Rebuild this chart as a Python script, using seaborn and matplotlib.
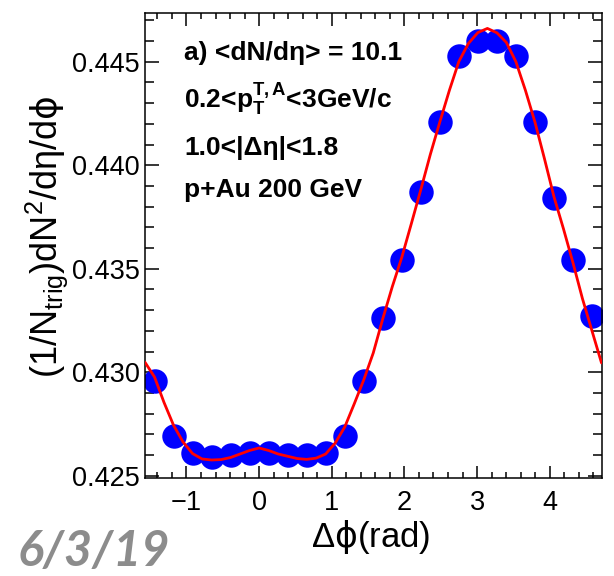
import numpy as np
import pandas as pd
import matplotlib
matplotlib.use("Agg")
import matplotlib.pyplot as plt
from matplotlib.ticker import MultipleLocator, FormatStrFormatter
import seaborn as sns

# Measured per-trigger pair yield in 24 delta-phi bins over [-pi/2, 3pi/2)
n_bins = 24
bin_edges = np.linspace(-np.pi / 2, 3 * np.pi / 2, n_bins + 1)
dphi_centers = 0.5 * (bin_edges[:-1] + bin_edges[1:])
pair_yield = [
    0.4296, 0.4269, 0.4261, 0.4259, 0.4260, 0.4261,
    0.4261, 0.4260, 0.4260, 0.4261, 0.4269, 0.4296,
    0.4326, 0.4354, 0.4387, 0.4421, 0.4453, 0.4460,
    0.4460, 0.4453, 0.4421, 0.4384, 0.4354, 0.4327,
]

# Fourier fit evaluated on a fine delta-phi grid
fit_dphi = np.linspace(-np.pi / 2, 3 * np.pi / 2, 49)
fit_yield = [
    0.43048, 0.42977, 0.42854, 0.42744, 0.42663, 0.42607, 0.42581,
    0.42576, 0.42578, 0.42588, 0.42605, 0.42622, 0.42634, 0.42622,
    0.42605, 0.42594, 0.42583, 0.42579, 0.42585, 0.42605, 0.42658,
    0.42735, 0.42847, 0.42963, 0.43093, 0.43258, 0.43413, 0.43555,
    0.43717, 0.43882, 0.44052, 0.44209, 0.44361, 0.44501, 0.44588,
    0.44641, 0.44661, 0.44640, 0.44593, 0.44500, 0.44362, 0.44209,
    0.44032, 0.43848, 0.43693, 0.43529, 0.43355, 0.43200, 0.43045,
]

x_ticks = [-1, 0, 1, 2, 3, 4]
y_ticks = [0.425, 0.430, 0.435, 0.440, 0.445]

points = pd.DataFrame({"dphi": dphi_centers, "yield": pair_yield})
fit = pd.DataFrame({"dphi": fit_dphi, "yield": fit_yield})

sns.set_style("white")
plt.rcParams["font.family"] = ["Liberation Sans", "DejaVu Sans"]
plt.rcParams["mathtext.fontset"] = "custom"
plt.rcParams["mathtext.rm"] = "Liberation Sans"
plt.rcParams["mathtext.it"] = "Liberation Sans:italic"
plt.rcParams["mathtext.bf"] = "Liberation Sans:bold"
plt.rcParams["mathtext.sf"] = "DejaVu Sans"

fig = plt.figure(figsize=(6.14, 5.76), dpi=100)
ax = fig.add_axes([145 / 614, 1 - 478 / 576, 456.5 / 614, 465.3 / 576])

sns.scatterplot(data=points, x="dphi", y="yield", ax=ax, color="#0000ff",
                s=310, marker="o", edgecolor="#0000ff", linewidth=0,
                zorder=2, legend=False)
sns.lineplot(data=fit, x="dphi", y="yield", ax=ax, color="#ff0000",
             linewidth=2.0, estimator=None, sort=False, zorder=3)

ax.set_xlim(-np.pi / 2, 3 * np.pi / 2)
ax.set_ylim(0.42489, 0.44737)
ax.set_xticks(x_ticks)
ax.set_yticks(y_ticks)
ax.xaxis.set_minor_locator(MultipleLocator(0.2))
ax.yaxis.set_minor_locator(MultipleLocator(0.001))
ax.yaxis.set_major_formatter(FormatStrFormatter("%.3f"))

ax.tick_params(axis="both", which="both", direction="in",
               top=True, right=True, bottom=True, left=True,
               colors="black", width=1.1, labelsize=19.5)
ax.tick_params(axis="x", which="major", length=9, pad=9)
ax.tick_params(axis="x", which="minor", length=4.5)
ax.tick_params(axis="y", which="major", length=10, pad=4)
ax.tick_params(axis="y", which="minor", length=6.5)
for side in ax.spines.values():
    side.set_visible(True)
    side.set_color("black")
    side.set_linewidth(1.1)

ax.set_xlabel(r"$\Delta\mathsf{\phi}\mathrm{(rad)}$", fontsize=25,
              color="black")
ax.xaxis.set_label_coords(0.495, -0.085)
ax.set_ylabel(r"$\mathrm{(1/N_{trig})dN^2/d\eta/d}\mathsf{\phi}$",
              fontsize=26, color="black")
ax.yaxis.set_label_coords(-0.164, 0.518)

# Selection labels
label_kw = dict(transform=fig.transFigure, fontsize=19, fontweight="bold",
                color="black", ha="left", va="center")
fig.text(184 / 614, 1 - 53 / 576, "a) <dN/d\u03b7> = 10.1", **label_kw)
fig.text(184 / 614, 1 - 100 / 576,
         r"0.2<p$_{\mathbf{T}}^{\mathbf{T,A}}$<3GeV/c", **label_kw)
fig.text(184 / 614, 1 - 148 / 576, "1.0<|\u0394\u03b7|<1.8", **label_kw)
fig.text(184 / 614, 1 - 190 / 576, "p+Au 200 GeV", **label_kw)

fig.text(18 / 614, 0.003, "6/3/19", fontsize=35, fontweight="bold",
         style="italic", color="#8c8c8c", family=["Lato", "DejaVu Sans"],
         ha="left", va="bottom")

fig.savefig("out.png", dpi=100)
